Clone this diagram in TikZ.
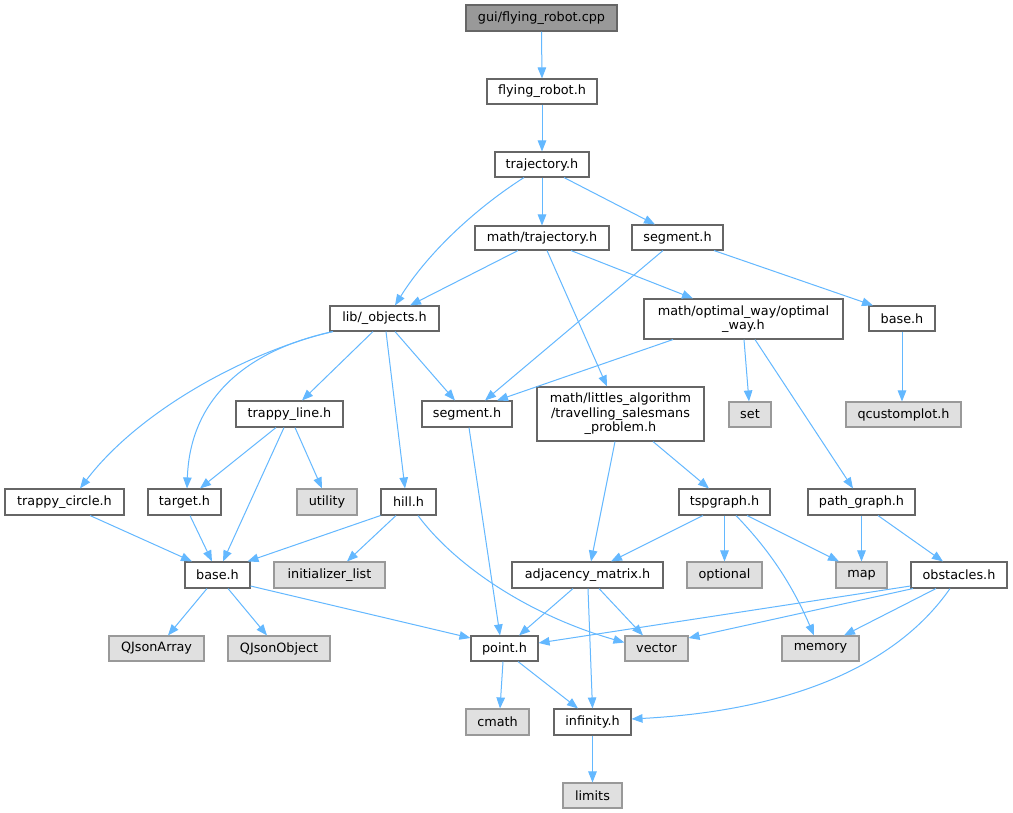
\documentclass[tikz,border=0pt]{standalone}
\usepackage{fontspec}
\setmainfont{DejaVu Sans}
\usetikzlibrary{arrows.meta,calc}
\definecolor{edgec}{HTML}{63B8FF}
\definecolor{bordc}{HTML}{666666}
\definecolor{gbord}{HTML}{999999}
\definecolor{gfill}{HTML}{E0E0E0}
\definecolor{rfill}{HTML}{999999}
\begin{document}
\begin{tikzpicture}[x=1pt,y=-1pt,
  wbox/.style={draw=bordc,fill=white,line width=1.1pt,inner sep=0pt,align=center,
    font=\fontsize{12.8}{14.5}\selectfont},
  gbox/.style={wbox,draw=gbord,fill=gfill},
  rbox/.style={wbox,draw=bordc,fill=rfill},
  e/.style={draw=edgec,line width=1pt,-{Triangle[length=11pt,width=8.5pt]}}]
\useasboundingbox (0,0) rectangle (1013,813);
\fill[white] (0,0) rectangle (1013,813);
% nodes
\node[rbox,minimum width=151pt,minimum height=26pt] (cpp) at (541.5,18) {gui/flying\_robot.cpp};
\node[wbox,minimum width=110pt,minimum height=25pt] (fr) at (542,91.5) {flying\_robot.h};
\node[wbox,minimum width=94pt,minimum height=25pt] (traj) at (542,164.5) {trajectory.h};
\node[wbox,minimum width=134pt,minimum height=24pt] (mtraj) at (542,238) {math/trajectory.h};
\node[wbox,minimum width=91pt,minimum height=25pt] (segt) at (677.5,237.5) {segment.h};
\node[wbox,minimum width=109pt,minimum height=25pt] (lib) at (384.5,318.5) {lib/\_objects.h};
\node[wbox,minimum width=199pt,minimum height=40pt] (ow) at (743.5,319) {math/optimal\_way/optimal\\\_way.h};
\node[wbox,minimum width=66pt,minimum height=25pt] (baset) at (902,318.5) {base.h};
\node[wbox,minimum width=167pt,minimum height=54pt] (la) at (620.5,414) {math/littles\_algorithm\\/travelling\_salesmans\\\_problem.h};
\node[gbox,minimum width=42pt,minimum height=25pt] (set) at (750,414.5) {set};
\node[gbox,minimum width=115pt,minimum height=25pt] (qcp) at (903.5,414.5) {qcustomplot.h};
\node[wbox,minimum width=90pt,minimum height=26pt] (segm) at (467,414) {segment.h};
\node[wbox,minimum width=107pt,minimum height=26pt] (tl) at (289.5,414) {trappy\_line.h};
\node[wbox,minimum width=119pt,minimum height=26pt] (tc) at (64.5,502) {trappy\_circle.h};
\node[wbox,minimum width=73pt,minimum height=26pt] (tg) at (184.5,502) {target.h};
\node[gbox,minimum width=60pt,minimum height=26pt] (util) at (327,502) {utility};
\node[wbox,minimum width=55pt,minimum height=26pt] (hill) at (408.5,502) {hill.h};
\node[wbox,minimum width=91pt,minimum height=26pt] (tsp) at (724.5,502) {tspgraph.h};
\node[wbox,minimum width=107pt,minimum height=26pt] (pg) at (861.5,502) {path\_graph.h};
\node[wbox,minimum width=65pt,minimum height=26pt] (basem) at (217.5,575) {base.h};
\node[gbox,minimum width=111pt,minimum height=26pt] (il) at (329.5,575) {initializer\_list};
\node[wbox,minimum width=151pt,minimum height=26pt] (adj) at (587.5,575) {adjacency\_matrix.h};
\node[gbox,minimum width=75pt,minimum height=26pt] (opt) at (724.5,575) {optional};
\node[gbox,minimum width=51pt,minimum height=26pt] (map) at (861.5,575) {map};
\node[wbox,minimum width=96pt,minimum height=26pt] (obs) at (959,575) {obstacles.h};
\node[gbox,minimum width=95pt,minimum height=25pt] (qja) at (156.5,648.5) {QJsonArray};
\node[gbox,minimum width=102pt,minimum height=25pt] (qjo) at (279,648.5) {QJsonObject};
\node[wbox,minimum width=67pt,minimum height=25pt] (pt) at (504.5,648.5) {point.h};
\node[gbox,minimum width=63pt,minimum height=25pt] (vec) at (656.5,648.5) {vector};
\node[gbox,minimum width=77pt,minimum height=25pt] (mem) at (820.5,648.5) {memory};
\node[gbox,minimum width=63pt,minimum height=26pt] (cmath) at (497.5,722) {cmath};
\node[wbox,minimum width=77pt,minimum height=26pt] (inf) at (592.5,722) {infinity.h};
\node[gbox,minimum width=59pt,minimum height=25pt] (lim) at (592.5,795.5) {limits};
% edges
\draw[e] (cpp.south) -- (fr.north);
\draw[e] (fr.south) -- (traj.north);
\draw[e] ($(traj.south)+(-18,0)$) .. controls +(-44,28) and +(35,-56) .. ($(lib.north)+(10.5,0)$);
\draw[e] (traj.south) -- (mtraj.north);
\draw[e] ($(traj.south)+(22,0)$) -- ($(segt.north)+(-22.5,0)$);
\draw[e] ($(mtraj.south)+(-24,0)$) -- ($(lib.north)+(25.5,0)$);
\draw[e] ($(mtraj.south)+(5,0)$) -- ($(la.north)+(-13.5,0)$);
\draw[e] ($(mtraj.south)+(29,0)$) -- ($(ow.north)+(-50.5,0)$);
\draw[e] ($(segt.south)+(-14.5,0)$) -- ($(segm.north)+(18,0)$);
\draw[e] ($(segt.south)+(36.5,0)$) -- ($(baset.north)+(-29,0)$);
\draw[e] ($(lib.south)+(-51.5,0)$) .. controls +(-83,19) and +(60,-79) .. ($(tc.north)+(15.5,0)$);
\draw[e] ($(lib.south)+(-51.5,0)$) .. controls +(-88,19) and +(3,-89) .. ($(tg.north)+(2.5,0)$);
\draw[e] ($(lib.south)+(-11.5,0)$) -- ($(tl.north)+(12.5,0)$);
\draw[e] ($(lib.south)+(1.5,0)$) -- ($(hill.north)+(-3.5,0)$);
\draw[e] ($(lib.south)+(10.5,0)$) -- ($(segm.north)+(-12,0)$);
\draw[e] ($(tl.south)+(-13.5,0)$) -- ($(tg.north)+(15.5,0)$);
\draw[e] ($(tl.south)+(-5.5,0)$) -- ($(basem.north)+(5.5,0)$);
\draw[e] ($(tl.south)+(5.5,0)$) -- ($(util.north)+(-5,0)$);
\draw[e] ($(tc.south)+(25.5,0)$) -- ($(basem.north)+(-25.5,0)$);
\draw[e] ($(tg.south)+(5.5,0)$) -- ($(basem.north)+(-5.5,0)$);
\draw[e] ($(hill.south)+(-28,0)$) -- ($(basem.north)+(30,0)$);
\draw[e] ($(hill.south)+(-12.5,0)$) -- ($(il.north)+(17.5,0)$);
\draw[e] ($(hill.south)+(9.5,0)$) .. controls +(37,50) and +(-95,-27) .. ($(vec.west)+(0,-6)$);
\draw[e] ($(basem.south)+(-10.5,0)$) -- ($(qja.north)+(11.5,0)$);
\draw[e] ($(basem.south)+(10.5,0)$) -- ($(qjo.north)+(-12,0)$);
\draw[e] ($(basem.east)+(0,11)$) -- ($(pt.west)+(0,-10.5)$);
\draw[e] ($(segm.south)+(2,0)$) -- ($(pt.north)+(-4.5,0)$);
\draw[e] ($(pt.south)+(-1.5,0)$) -- ($(cmath.north)+(2.5,0)$);
\draw[e] ($(pt.south)+(13.5,0)$) -- ($(inf.north)+(-14.5,0)$);
\draw[e] ($(ow.south)+(0.5,0)$) -- ($(set.north)+(-1,0)$);
\draw[e] ($(ow.south)+(11.5,0)$) -- ($(pg.north)+(-8.5,0)$);
\draw[e] ($(ow.south)+(-70.5,0)$) -- ($(segm.north)+(30,0)$);
\draw[e] (baset.south) -- ($(qcp.north)+(-1.5,0)$);
\draw[e] ($(la.south)+(-5.5,0)$) -- ($(adj.north)+(3.5,0)$);
\draw[e] ($(la.south)+(32.5,0)$) -- ($(tsp.north)+(-15.5,0)$);
\draw[e] ($(tsp.south)+(-21.5,0)$) -- ($(adj.north)+(23.5,0)$);
\draw[e] (tsp.south) -- (opt.north);
\draw[e] ($(tsp.south)+(22.5,0)$) -- ($(map.north)+(-22.5,0)$);
\draw[e] ($(tsp.south)+(11.5,0)$) .. controls +(29,30) and +(-24,-56) .. ($(mem.north)+(-6.5,0)$);
\draw[e] (pg.south) -- (map.north);
\draw[e] ($(pg.south)+(16.5,0)$) -- ($(obs.north)+(-16,0)$);
\draw[e] ($(adj.south)+(-14.5,0)$) -- ($(pt.north)+(14.5,0)$);
\draw[e] ($(adj.south)+(0.5,0)$) -- (inf.north);
\draw[e] ($(adj.south)+(11.5,0)$) -- ($(vec.north)+(-13.5,0)$);
\draw[e] ($(obs.west)+(0,11)$) -- ($(pt.east)+(0,-5.5)$);
\draw[e] ($(obs.south)+(-46,0)$) -- ($(vec.east)+(0,-10.5)$);
\draw[e] ($(obs.south)+(-23,0)$) -- ($(mem.north)+(23.5,0)$);
\draw[e] ($(obs.south)+(-9,0)$) .. controls +(-50,72) and +(169,-9) .. ($(inf.east)+(0,-3)$);
\draw[e] (inf.south) -- (lim.north);
\end{tikzpicture}
\end{document}
